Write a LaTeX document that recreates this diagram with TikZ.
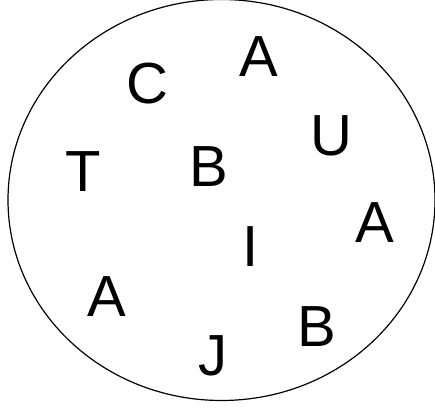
\documentclass[tikz,border=0pt]{standalone}
\usepackage{fontspec}
\setmainfont{Liberation Sans}
\usepackage{tikz}

\begin{document}
\begin{tikzpicture}[x=1pt,y=1pt,
  letter/.style={inner sep=0pt,anchor=base,font=\fontsize{58}{60}\selectfont}]
\useasboundingbox (0,0) rectangle (435,409);
\draw[line width=1.2pt] (221.5,209) ellipse (213.5 and 200.5);
\node[letter] (atop) at (258.5,332) {A};
\node[letter] (c) at (147.5,305.5) {C};
\node[letter] (u) at (331,253) {U};
\node[letter] (t) at (83,217) {T};
\node[letter] (bmid) at (209,222) {B};
\node[letter] (aright) at (375,166) {A};
\node[letter] (i) at (251,142) {I};
\node[letter] (aleft) at (106.5,93) {A};
\node[letter] (bbot) at (316.5,63) {B};
\node[letter] (j) at (212.5,34) {J};
\end{tikzpicture}
\end{document}
